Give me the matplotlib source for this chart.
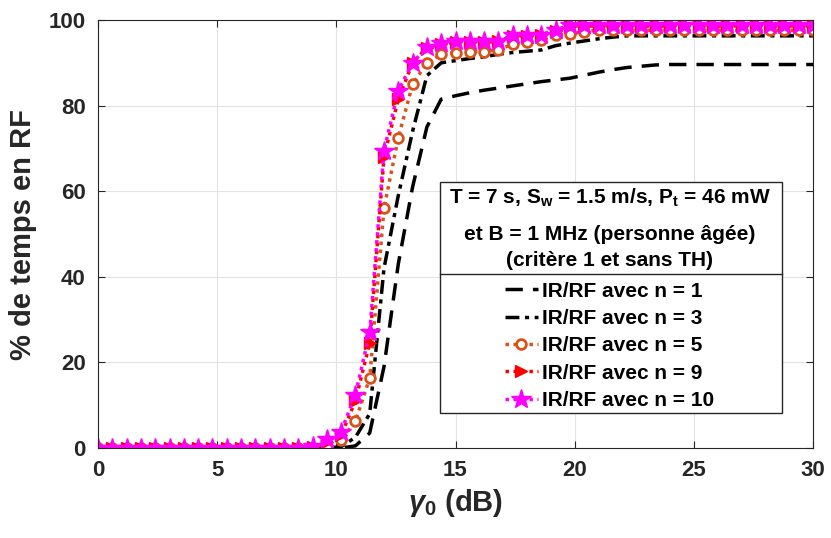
import numpy as np
import matplotlib
matplotlib.use('Agg')
import matplotlib.pyplot as plt
from matplotlib.patches import Rectangle
from matplotlib.lines import Line2D

# gamma_0 grid (dB)
gamma0 = [0.0, 0.6, 1.2, 1.8, 2.4, 3.0, 3.6, 4.2, 4.8, 5.4,
          6.0, 6.6, 7.2, 7.8, 8.4, 9.0, 9.6, 10.2, 10.8, 11.4,
          12.0, 12.6, 13.2, 13.8, 14.4, 15.0, 15.6, 16.2, 16.8, 17.4,
          18.0, 18.6, 19.2, 19.8, 20.4, 21.0, 21.6, 22.2, 22.8, 23.4,
          24.0, 24.6, 25.2, 25.8, 26.4, 27.0, 27.6, 28.2, 28.8, 29.4, 30.0]

# % de temps en RF
n1 = [0]*18 + [0.5, 3.5, 19, 43, 61, 75, 81.5, 82.3, 83, 83.6, 84.1, 84.6,
               85.1, 85.6, 86, 86.4, 87.1, 87.8, 88.4, 88.9, 89.2, 89.5] + [89.6]*11
n3 = [0]*17 + [0.3, 2.5, 8, 42, 59, 74, 87, 90, 90.5, 91, 91.4, 92, 92.4,
               92.7, 93, 94, 94.6, 95.1, 95.6, 96.0] + [96.3]*14
n5 = [0]*16 + [0.3, 1.9, 6.3, 16.3, 56, 72.5, 85, 90, 92, 92.4, 92.6, 92.6, 93.1,
               94.3, 94.9, 95.4, 96.5, 96.7, 97.3] + [97.6]*16
n9 = [0]*15 + [0.3, 1.5, 3, 11, 24.5, 68, 81.5, 90, 93.5, 94.4, 94.8, 94.8, 94.8,
               95, 96.3, 96.3, 96.4, 97.5] + [98.6]*18
n10 = [0]*15 + [0.5, 2, 3.8, 12.5, 27, 69.5, 83.5, 90, 93.7, 94.6, 95, 95, 95,
                95.2, 96.5, 96.5, 96.6, 97.7] + [98.8]*18

legend_labels = ['IR/RF avec n = 1', 'IR/RF avec n = 3', 'IR/RF avec n = 5',
                 'IR/RF avec n = 9', 'IR/RF avec n = 10']
title_lines = ['T = 7 s, S$_{\\mathbf{w}}$ = 1.5 m/s, P$_{\\mathbf{t}}$ = 46 mW',
               'et B = 1 MHz (personne âgée)',
               '(critère 1 et sans TH)']

plt.rcParams['font.family'] = ['Liberation Sans', 'DejaVu Sans']
plt.rcParams['font.weight'] = 'bold'
plt.rcParams['axes.labelweight'] = 'bold'
plt.rcParams['mathtext.fontset'] = 'custom'
plt.rcParams['mathtext.rm'] = 'Liberation Sans:bold'
plt.rcParams['mathtext.it'] = 'Liberation Sans:italic'
plt.rcParams['mathtext.bf'] = 'Liberation Sans:bold'

fig = plt.figure(figsize=(8.31, 5.38), dpi=100)
ax = fig.add_axes([98/831, 90/538, 715/831, 428/538])

lw = 2.5
ax.plot(gamma0, n1, color='black', lw=lw, ls=(0, (5, 2.9)))
ax.plot(gamma0, n3, color='black', lw=lw, ls=(0, (4, 1.6, 1.2, 1.6)))
ax.plot(gamma0, n5, color='#D95319', lw=lw, ls=(0, (1, 1.3)),
        marker='o', ms=7, mfc='white', mec='#D95319', mew=2)
ax.plot(gamma0, n9, color='red', lw=lw, ls=(0, (1, 1.3)),
        marker='>', ms=8, mfc='red', mec='red')
ax.plot(gamma0, n10, color='magenta', lw=lw, ls=(0, (1, 1.3)),
        marker='*', ms=15, mfc='magenta', mec='magenta')

ax.set_xlim(0, 30)
ax.set_ylim(0, 100)
ax.set_xticks([0, 5, 10, 15, 20, 25, 30])
ax.set_yticks([0, 20, 40, 60, 80, 100])
ax.grid(True, color='#e3e3e3', lw=0.8)
ax.set_axisbelow(True)
ax.tick_params(direction='in', length=5, width=0.8, top=True, right=True,
               labelsize=16, colors='#262626', pad=9)
for s in ax.spines.values():
    s.set_color('#262626')
    s.set_linewidth(0.8)

ax.set_xlabel('$\\gamma_{\\mathbf{0}}$ (dB)', fontsize=21, color='#262626', labelpad=4)
ax.set_ylabel('% de temps en RF', fontsize=21, color='#262626', labelpad=8)

# legend box with title
x0, x1 = 0.4783, 0.9563
y0, y1 = 0.0825, 0.622
ysep = 0.406
ax.add_patch(Rectangle((x0, y0), x1 - x0, y1 - y0, transform=ax.transAxes,
                       facecolor='white', edgecolor='#262626', lw=1, zorder=5))
ax.add_line(Line2D([x0, x1], [ysep, ysep], transform=ax.transAxes,
                   color='#262626', lw=1, zorder=6))
xc = 0.7155
for yb, txt in zip([0.570, 0.486, 0.425], title_lines):
    ax.text(xc, yb, txt, transform=ax.transAxes, ha='center', va='baseline',
            fontsize=15, fontweight='bold', zorder=7)

leg = ax.legend(legend_labels, loc='upper center', bbox_to_anchor=(0.7155, ysep),
                frameon=False, fontsize=15, handlelength=1.55, handletextpad=0.2,
                labelspacing=0.4, borderpad=0.36, borderaxespad=0, numpoints=1)
leg.set_zorder(8)

fig.savefig('out.png', dpi=100)
